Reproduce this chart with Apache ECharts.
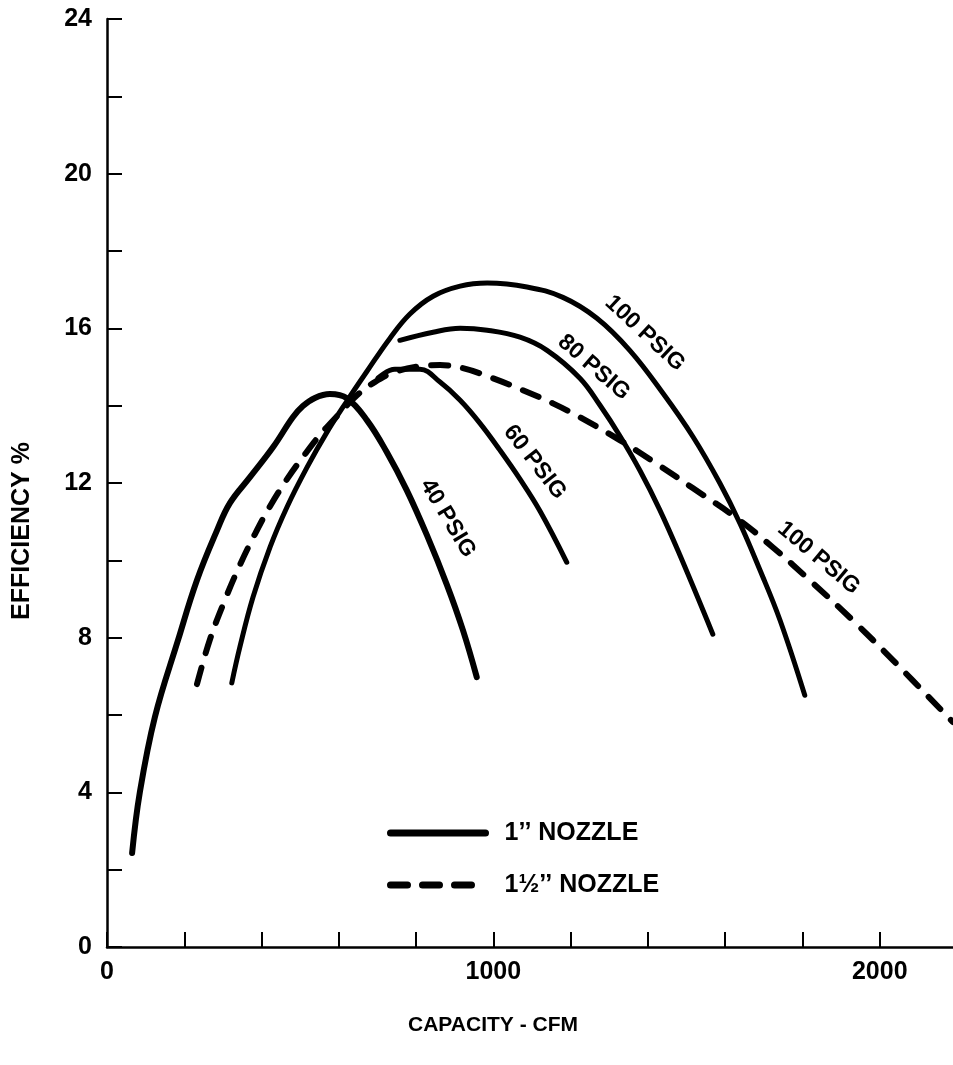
<!DOCTYPE html>
<html>
<head>
<meta charset="utf-8">
<script src="https://cdn.jsdelivr.net/npm/echarts@6/dist/echarts.min.js"></script>
<style>
  html, body { margin: 0; padding: 0; background: #fff; }
  #chart { width: 953px; height: 1065px; }
</style>
</head>
<body>
<div id="chart"></div>
<script>
// Nozzle efficiency vs. capacity curves: [CFM, efficiency %]
const psig40 = [[65,2.43],[85,4.0],[124,5.95],[184,7.94],[233,9.49],[285,10.78],[318,11.48],[370,12.15],[430,12.93],[481,13.70],[507,13.99],[538,14.2],[577,14.3],[621,14.19],[673,13.62],[724,12.80],[776,11.81],[828,10.65],[880,9.36],[921,8.20],[957,6.98]];
const psig60 = [[701,14.71],[745,14.94],[810,14.94],[862,14.61],[914,14.14],[965,13.55],[1017,12.85],[1069,12.10],[1121,11.27],[1190,9.95]];
const psig80 = [[758,15.69],[844,15.90],[914,16.0],[984,15.95],[1069,15.77],[1139,15.43],[1224,14.71],[1276,14.01],[1328,13.21],[1379,12.33],[1431,11.30],[1483,10.13],[1568,8.09]];
const psig100 = [[323,6.83],[344,7.76],[378,9.05],[422,10.34],[466,11.38],[518,12.41],[569,13.31],[621,14.12],[673,14.89],[732,15.74],[784,16.37],[844,16.83],[914,17.09],[984,17.17],[1087,17.07],[1180,16.80],[1268,16.26],[1353,15.43],[1439,14.32],[1517,13.19],[1586,12.0],[1638,10.96],[1690,9.75],[1742,8.45],[1806,6.51]];
const psig100Large = [[233,6.80],[266,7.94],[305,8.97],[344,9.88],[383,10.68],[422,11.40],[466,12.10],[512,12.74],[551,13.24],[603,13.81],[647,14.27],[693,14.61],[745,14.87],[810,15.02],[862,15.05],[921,14.97],[999,14.71],[1076,14.40],[1154,14.06],[1224,13.70],[1327,13.11],[1413,12.56],[1516,11.87],[1630,11.09],[1723,10.34],[1827,9.41],[1930,8.45],[2034,7.42],[2189,5.82]];

// Curve captions, anchored in data units
const captionText = ['40 PSIG', '60 PSIG', '80 PSIG', '100 PSIG', '100 PSIG'];
const captionX = [882, 1107, 1260, 1392, 1842];
const captionY = [11.09, 12.54, 14.99, 15.87, 10.06];

const legendNames = ['1\u2019\u2019 NOZZLE', '1\u00BD\u2019\u2019 NOZZLE'];
const xTicks = [0, 1000, 2000];
const yTicks = [0, 4, 8, 12, 16, 20, 24];

const captionAngles = [-59, -52, -41, -43, -40];
const FONT = '"Liberation Sans", Arial, Helvetica, sans-serif';

const solid = (data, width) => ({
  type: 'line',
  name: legendNames[0],
  data: data,
  smooth: 0.4,
  symbol: 'none',
  lineStyle: { color: '#000', width: width, cap: 'round', join: 'round' }
});

const chart = echarts.init(document.getElementById('chart'), null, { renderer: 'canvas' });
chart.setOption({
  animation: false,
  backgroundColor: '#fff',
  textStyle: { fontFamily: FONT },
  grid: { left: 107, top: 19, width: 850, height: 928, containLabel: false, outerBoundsMode: 'none' },
  legend: {
    orient: 'vertical',
    left: 382,
    top: 813,
    itemWidth: 95,
    itemHeight: 14,
    itemGap: 22,
    data: legendNames,
    selectedMode: false,
    itemStyle: { opacity: 0 },
    lineStyle: { width: 7 },
    textStyle: { fontFamily: FONT, fontSize: 25, lineHeight: 30, fontWeight: 'bold', color: '#000', padding: [0, 0, 0, 14] }
  },
  xAxis: {
    type: 'value',
    min: 0, max: 2200, interval: 200,
    name: 'CAPACITY - CFM',
    nameLocation: 'middle',
    nameGap: 68,
    nameTextStyle: { fontFamily: FONT, fontSize: 21, fontWeight: 'bold', color: '#000', padding: [0, 78, 0, 0] },
    axisLine: { lineStyle: { color: '#000', width: 2.5 } },
    axisTick: { inside: true, length: 15, lineStyle: { color: '#000', width: 2 } },
    axisLabel: {
      margin: 13, fontSize: 25, fontWeight: 'bold', color: '#000', fontFamily: FONT,
      formatter: (v) => xTicks.indexOf(v) >= 0 ? String(v) : ''
    },
    splitLine: { show: false }
  },
  yAxis: {
    type: 'value',
    min: 0, max: 24, interval: 2,
    name: 'EFFICIENCY %',
    nameLocation: 'middle',
    nameRotate: 90,
    nameGap: 72,
    nameTextStyle: { fontFamily: FONT, fontSize: 25, fontWeight: 'bold', color: '#000', padding: [0, 96, 0, 0] },
    axisLine: { show: true, lineStyle: { color: '#000', width: 2.5 } },
    axisTick: { show: true, inside: true, length: 15, lineStyle: { color: '#000', width: 2 } },
    axisLabel: {
      margin: 15, fontSize: 25, fontWeight: 'bold', color: '#000', fontFamily: FONT,
      formatter: (v) => yTicks.indexOf(v) >= 0 ? String(v) : ''
    },
    splitLine: { show: false }
  },
  series: [
    solid(psig40, 6),
    solid(psig60, 5),
    solid(psig80, 5),
    solid(psig100, 5),
    {
      type: 'line',
      name: legendNames[1],
      data: psig100Large,
      smooth: 0.4,
      symbol: 'none',
      lineStyle: { color: '#000', width: 6, type: [17, 15], cap: 'round', join: 'round' }
    },
    {
      type: 'scatter',
      name: 'captions',
      symbolSize: 1,
      itemStyle: { color: 'rgba(0,0,0,0)', opacity: 1 },
      silent: true,
      data: captionText.map((t, i) => ({
        name: t,
        value: [captionX[i], captionY[i]],
        label: { rotate: captionAngles[i] }
      })),
      label: {
        show: true,
        position: 'inside',
        formatter: (p) => p.name,
        fontFamily: FONT,
        fontSize: 23,
        fontWeight: 'bold',
        color: '#000',
        opacity: 1,
        textBorderWidth: 0
      }
    }
  ]
});
</script>
</body>
</html>
